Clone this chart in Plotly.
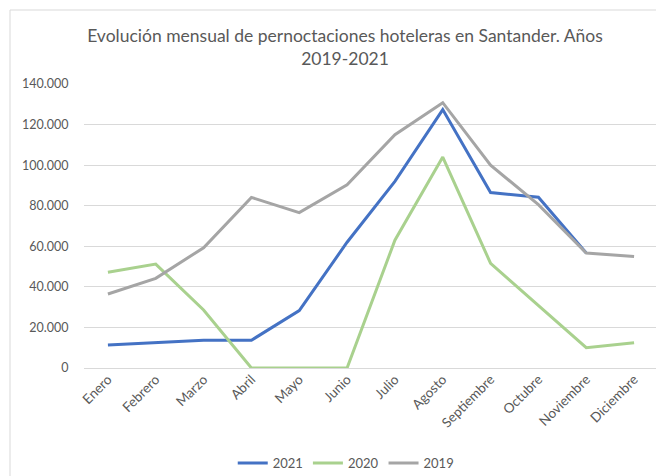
import plotly.graph_objects as go

meses = ["Enero", "Febrero", "Marzo", "Abril", "Mayo", "Junio", "Julio",
         "Agosto", "Septiembre", "Octubre", "Noviembre", "Diciembre"]
v2021 = [11300, 12400, 13700, 13700, 28300, 62000, 92000, 127400, 86500, 84200, 56700, None]
v2020 = [47200, 51200, 28600, 0, 0, 0, 63000, 104000, 51600, 31000, 10000, 12500]
v2019 = [36500, 44200, 59300, 84100, 76600, 90300, 115000, 130800, 100000, 80500, 56700, 55000]

series = [("2021", v2021, "#4472C4"), ("2020", v2020, "#A9D18E"), ("2019", v2019, "#A5A5A5")]

FONT = "Lato, Carlito, Calibri, sans-serif"

fig = go.Figure()
for name, vals, col in series:
    fig.add_trace(go.Scatter(x=meses, y=vals, name=name, mode="lines",
                             line=dict(color=col, width=3),
                             connectgaps=False))

fig.update_layout(
    width=664, height=476,
    margin=dict(l=76, r=14, t=76, b=116, autoexpand=False),
    paper_bgcolor="white", plot_bgcolor="white",
    separators=",.",
    font=dict(family=FONT, size=12, color="#595959"),
    title=dict(text="Evolución mensual de pernoctaciones hoteleras en Santander. Años<br>2019-2021",
               x=337 / 664, xref="container", xanchor="center",
               y=1 - 34 / 476, yref="container", yanchor="top",
               font=dict(family=FONT, size=17.5, color="#595959")),
    legend=dict(orientation="h", x=0.456, xanchor="center", y=-95 / 284, yanchor="middle",
                font=dict(family=FONT, size=13, color="#595959"),
                itemwidth=30, tracegroupgap=0),
    showlegend=True,
    xaxis=dict(tickangle=-45, showgrid=False, showline=False, ticks="",
               range=[-0.5, 11.5], automargin=False,
               tickfont=dict(family=FONT, size=13.5, color="#595959")),
    yaxis=dict(range=[0, 140000], dtick=20000, tickformat=",.0f", automargin=False,
               showgrid=True, gridcolor="#D9D9D9", gridwidth=1,
               zeroline=True, zerolinecolor="#D9D9D9", zerolinewidth=1,
               showline=False, ticks="outside", ticklen=12, tickcolor="rgba(0,0,0,0)",
               tickfont=dict(family=FONT, size=12.5, color="#595959")),
)

# chart border (left and top visible)
fig.add_shape(type="line", xref="paper", yref="paper", x0=-74/574, x1=1.2, y0=358/284, y1=358/284,
              line=dict(color="#D9D9D9", width=1))
fig.add_shape(type="line", xref="paper", yref="paper", x0=-74/574, x1=-74/574, y0=358/284, y1=-0.5,
              line=dict(color="#D9D9D9", width=1))

fig.write_html("out.html")
